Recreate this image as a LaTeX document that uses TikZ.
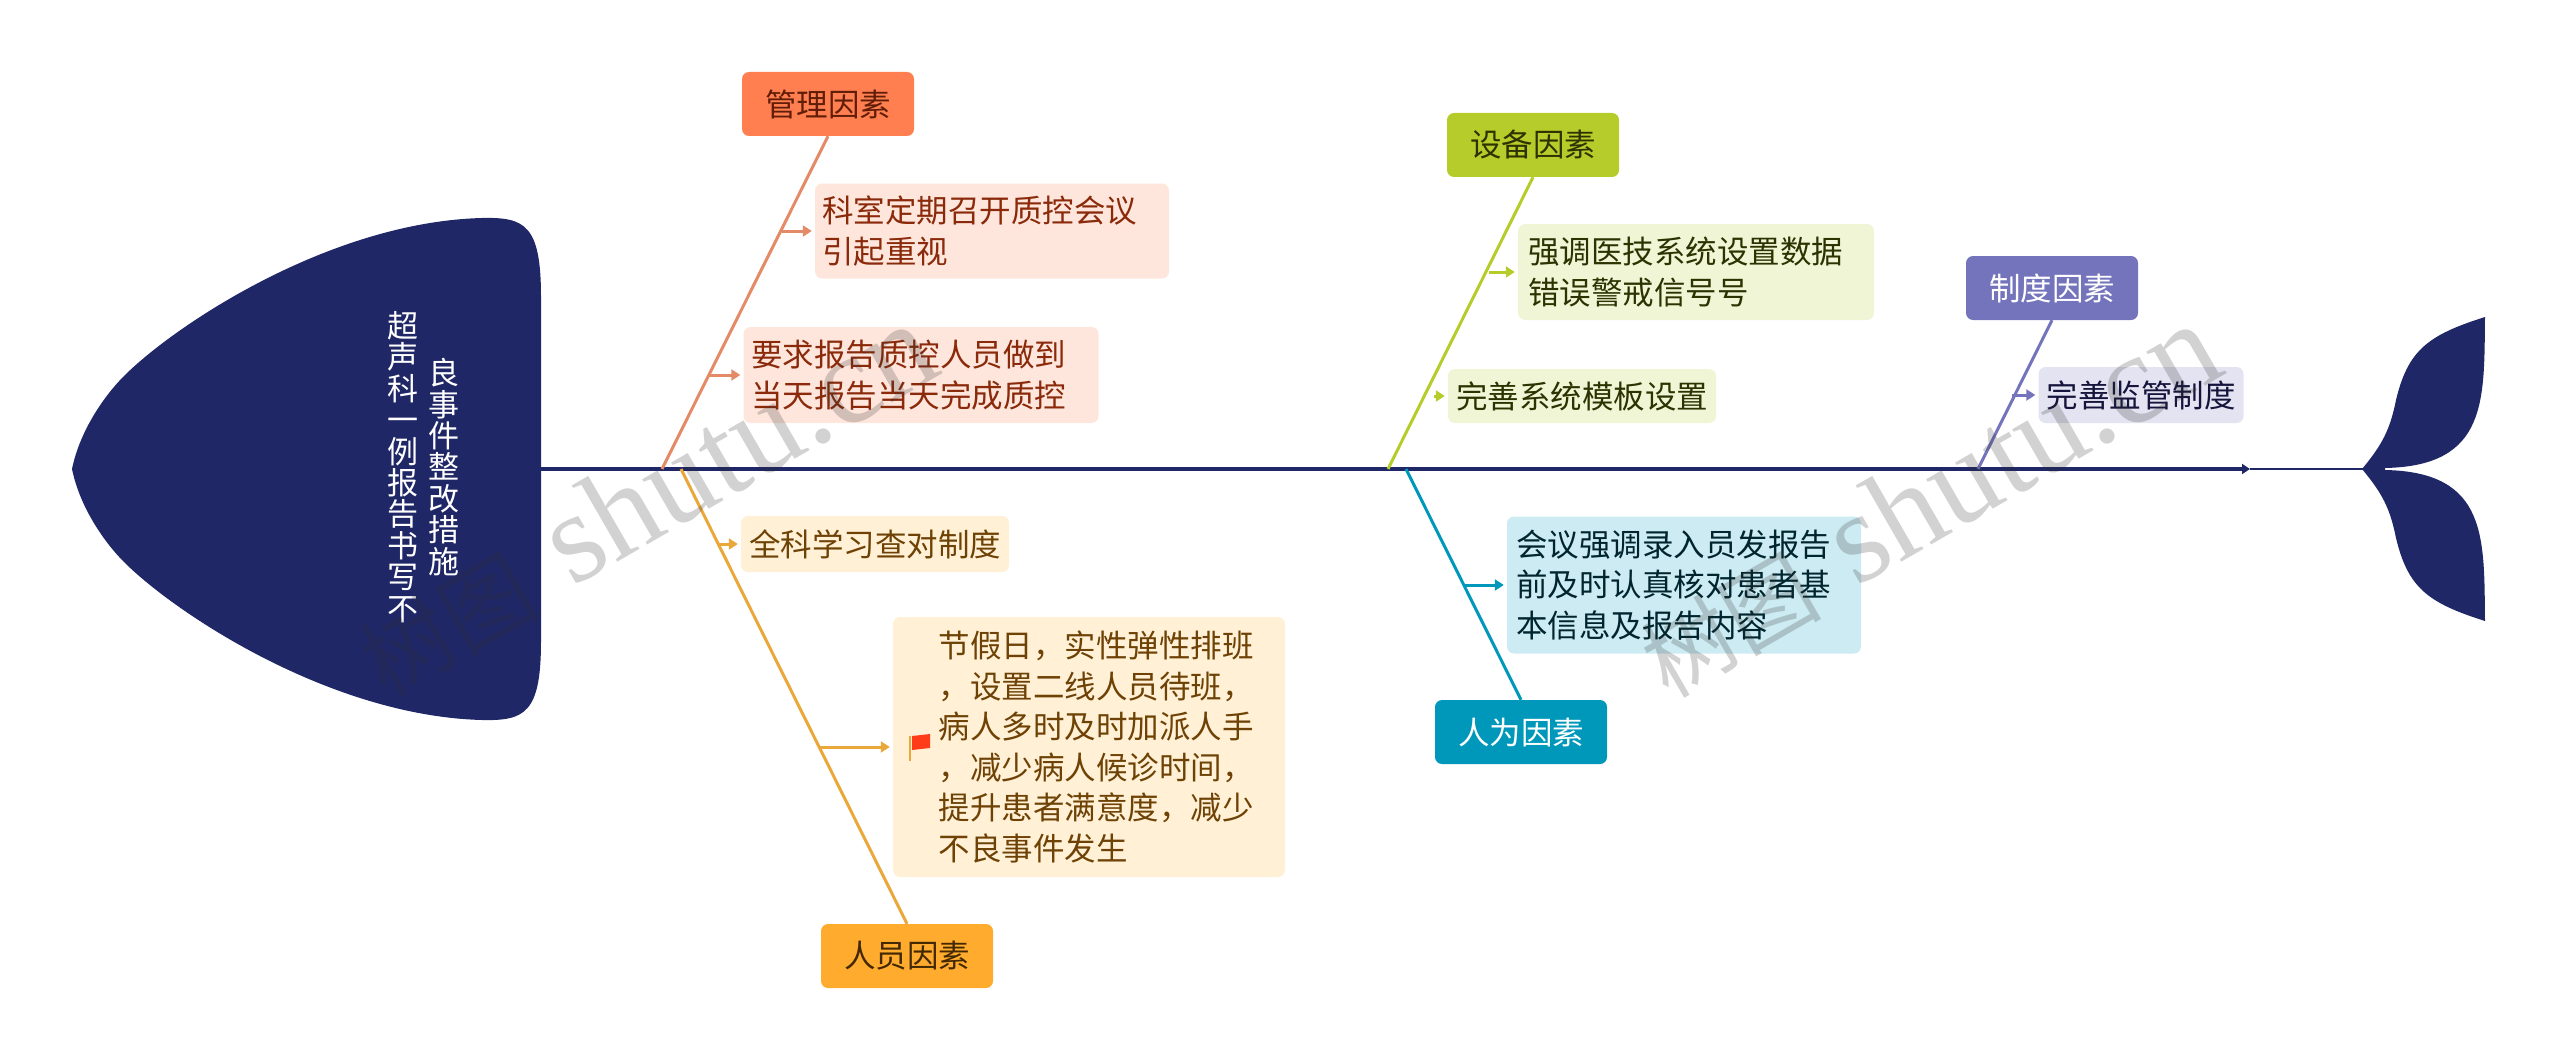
\documentclass[tikz,border=0pt]{standalone}
\usepackage{fontspec}
\setmainfont{Noto Sans CJK SC}
\newfontfamily\wmlatin{Liberation Serif}
\usetikzlibrary{arrows.meta}
\definecolor{navy}{HTML}{1F2766}
\definecolor{wmgrey}{HTML}{303030}
\definecolor{cOrange}{HTML}{FF7F50}\definecolor{lOrange}{HTML}{E58A66}\definecolor{fOrange}{HTML}{FFE6DD}\definecolor{tOrange}{HTML}{8A2A0A}
\definecolor{cYellow}{HTML}{FFAB2E}\definecolor{lYellow}{HTML}{EBA83A}\definecolor{fYellow}{HTML}{FFF0D6}\definecolor{tYellow}{HTML}{6E4205}
\definecolor{cGreen}{HTML}{B5CC2A}\definecolor{fGreen}{HTML}{F0F5D6}\definecolor{tGreen}{HTML}{2C3300}
\definecolor{cBlue}{HTML}{0098BA}\definecolor{fBlue}{HTML}{CCEBF2}\definecolor{tBlue}{HTML}{00252E}
\definecolor{cPurple}{HTML}{7474BC}\definecolor{fPurple}{HTML}{E3E3F1}\definecolor{tPurple}{HTML}{14143C}
\newcommand{\bodytext}[3][316pt]{\parbox{#1}{\raggedright #3}\hspace*{#2}}
\tikzset{
  x=1pt,y=-1pt,
  txt/.style={font=\fontsize{31.5}{40.5}\selectfont,align=left,inner sep=0pt,rounded corners=7pt},
  topic/.style={txt,minimum width=172pt,minimum height=64pt},
  sub/.style={txt},
  branch/.style={line width=3pt},
  twig/.style={line width=3pt,-{Triangle[length=9pt,width=11pt]},shorten >=3pt},
  spine/.style={navy,line width=3.2pt},
  body/.style={fill=navy,draw=none},
  headtxt/.style={text=white,font=\fontsize{31}{31.4}\selectfont,align=center,inner sep=0pt},
  wm/.style={text=wmgrey,opacity=.22,rotate=30,inner sep=0pt,anchor=base west},
  wmcjk/.style={wm,font=\fontsize{90}{90}\selectfont},
  wmlat/.style={wm,font=\wmlatin\fontsize{128}{128}\selectfont}
}
\begin{document}
\begin{tikzpicture}
\useasboundingbox (0,0) rectangle (2560,1062);
% fish head and tail
\fill[body] (72,469) .. controls (80,430) and (105,395) .. (124,376)
  .. controls (175,325) and (330,222) .. (482,218)
  .. controls (525,217) and (541,225) .. (541,297) -- (541,641)
  .. controls (541,713) and (525,721) .. (482,720)
  .. controls (330,716) and (175,613) .. (124,562)
  .. controls (105,543) and (80,508) .. (72,469) -- cycle;
\fill[body] (2362,469) .. controls (2382,445) and (2390,430) .. (2396,400)
  .. controls (2408,350) and (2428,335) .. (2485,317)
  .. controls (2484,400) and (2488,466) .. (2385,468) -- (2385,470)
  .. controls (2488,472) and (2484,538) .. (2485,621)
  .. controls (2428,603) and (2408,588) .. (2396,538)
  .. controls (2390,508) and (2382,493) .. (2362,469) -- cycle;
\coordinate (sA) at (541,469);
\coordinate (sB) at (2250,469);
\coordinate (sC) at (2364,469);
\draw[spine,-{Triangle[length=8pt,width=10pt]}] (sA) -- (sB);
\draw[navy,line width=2.2pt] (sB) -- (sC);
\node[headtxt] (h1) at (403,467) {超\\声\\科\\一\\例\\报\\告\\书\\写\\不};
\node[headtxt] (h2) at (444,467) {良\\事\\件\\整\\改\\措\\施};
% management
\node[topic,fill=cOrange,text=tOrange!70!black] (mg) at (828,104) {管理因素};
\node[sub,fill=fOrange,text=tOrange,minimum width=354pt,minimum height=95pt] (mg1) at (992,231) {\bodytext{24pt}{科室定期召开质控会议\\引起重视}};
\node[sub,fill=fOrange,text=tOrange,minimum width=355pt,minimum height=96pt] (mg2) at (921,375) {\bodytext{24pt}{要求报告质控人员做到\\当天报告当天完成质控}};
\coordinate (mgS) at (662,469);
\draw[branch,lOrange] (mg.south) -- (mgS);
\coordinate (mg1a) at (782,231);
\coordinate (mg2a) at (709,375);
\draw[twig,lOrange] (mg1a) -- (mg1.west);
\draw[twig,lOrange] (mg2a) -- (mg2.west);
% staff
\node[topic,fill=cYellow,text=tYellow!60!black] (st) at (907,956) {人员因素};
\node[sub,fill=fYellow,text=tYellow,minimum width=268pt,minimum height=56pt] (st1) at (875,544) {全科学习查对制度};
\node[sub,fill=fYellow,text=tYellow,minimum width=392pt,minimum height=260pt] (st2) at (1089,747) {\hspace*{15pt}\bodytext{0pt}{节假日，实性弹性排班\\，设置二线人员待班，\\病人多时及时加派人手\\，减少病人候诊时间，\\提升患者满意度，减少\\不良事件发生}};
\coordinate (stS) at (681,469);
\draw[branch,lYellow] (st.north) -- (stS);
\coordinate (st1a) at (718,544);
\coordinate (st2a) at (820,747);
\draw[twig,lYellow] (st1a) -- (st1.west);
\draw[twig,lYellow] (st2a) -- (st2.west);
% flag icon
\draw[lYellow,line width=2pt] (910,736) -- (910,761);
\fill[red!70!orange!90] (912,736) -- (930,734) -- (930,748) -- (912,750) -- cycle;
% equipment
\node[topic,fill=cGreen,text=tGreen] (eq) at (1533,145) {设备因素};
\node[sub,fill=fGreen,text=tGreen,minimum width=356pt,minimum height=96pt] (eq1) at (1696,272) {\bodytext{20pt}{强调医技系统设置数据\\错误警戒信号号}};
\node[sub,fill=fGreen,text=tGreen,minimum width=268pt,minimum height=54pt] (eq2) at (1582,396) {完善系统模板设置};
\coordinate (eqS) at (1388,469);
\draw[branch,cGreen] (eq.south) -- (eqS);
\coordinate (eq1a) at (1489,272);
\coordinate (eq2a) at (1434,396);
\draw[twig,cGreen] (eq1a) -- (eq1.west);
\draw[twig,cGreen] (eq2a) -- (eq2.west);
% people
\node[topic,fill=cBlue,text=white] (pe) at (1521,732) {人为因素};
\node[sub,fill=fBlue,text=tBlue,minimum width=354pt,minimum height=137pt] (pe1) at (1684,585) {\bodytext{20pt}{会议强调录入员发报告\\前及时认真核对患者基\\本信息及报告内容}};
\coordinate (peS) at (1406,469);
\draw[branch,cBlue] (pe.north) -- (peS);
\coordinate (pe1a) at (1464,585);
\draw[twig,cBlue] (pe1a) -- (pe1.west);
% system
\node[topic,fill=cPurple,text=white] (sy) at (2052,288) {制度因素};
\node[sub,fill=fPurple,text=tPurple,minimum width=205pt,minimum height=56pt] (sy1) at (2141,395) {完善监管制度};
\coordinate (syS) at (1978,469);
\draw[branch,cPurple] (sy.south) -- (syS);
\coordinate (sy1a) at (2012,395);
\draw[twig,cPurple] (sy1a) -- (sy1.west);
% watermarks
\node[wmcjk] (w1c) at (386,700) {树图};
\node[wmlat] (w1l) at (572,588) {shutu.cn};
\node[wmcjk] (w2c) at (1668,700) {树图};
\node[wmlat] (w2l) at (1856,588) {shutu.cn};
\end{tikzpicture}
\end{document}
